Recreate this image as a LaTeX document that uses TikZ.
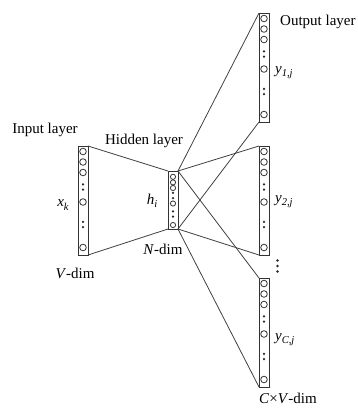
\documentclass[tikz,border=0pt]{standalone}
\usepackage{fontspec}
\setmainfont{Liberation Serif}

% lowered italic subscript
\newcommand\lsub[1]{\raisebox{-3.2bp}{\fontsize{10.5bp}{10.5bp}\selectfont\itshape #1}}
% two small dots stacked vertically, centred on (x,y)
\newcommand\dotpair[2]{%
  \fill[black!85] (#1,#2-2.7) circle[radius=1.25bp];
  \fill[black!85] (#1,#2+2.7) circle[radius=1.25bp];}
% a tall layer column: name, centre x, top y
\newcommand\layerbar[3]{%
  \node[bar, minimum height=109bp, anchor=north] (#1) at (#2,#3) {};
  \begin{scope}[shift={(#2,#3)}]
    \foreach \yy in {5.5,16,26.5,56,101.5} \node[unit] at (0,\yy) {};
    \dotpair{0}{41}
    \dotpair{0}{78.5}
  \end{scope}}

\begin{document}
\begin{tikzpicture}[x=1bp,y=-1bp,
  bar/.style={draw=black!80, line width=1bp, minimum width=10bp,
    inner sep=0, outer sep=0, fill=white},
  unit/.style={draw=black!80, line width=0.8bp, circle, minimum size=6.6bp,
    inner sep=0, outer sep=0},
  smallunit/.style={unit, minimum size=5.2bp},
  link/.style={draw=black!75, line width=0.8bp},
  lbl/.style={font=\fontsize{15bp}{16bp}\selectfont, inner sep=0},
]
\useasboundingbox (0,0) rectangle (358,410);

% input, output columns
\layerbar{in}{83}{146}
\layerbar{outa}{264}{13}
\layerbar{outb}{264}{146}
\layerbar{outc}{264}{278}

% hidden column
\node[bar, minimum height=58bp, anchor=north] (hid) at (173,171) {};
\begin{scope}[shift={(173,171)}]
  \foreach \yy in {5.8,11.4,17,32.5,54} \node[smallunit] at (0,\yy) {};
  \dotpair{0}{24.5}
  \dotpair{0}{43}
\end{scope}

% connections
\draw[link] (in.north east) -- (hid.north west);
\draw[link] (in.south east) -- (hid.south west);
\foreach \o in {outa,outb,outc}{
  \draw[link] (hid.north east) -- (\o.north west);
  \draw[link] (hid.south east) -- (\o.south west);
}

% vertical ellipsis between the last two output columns
\foreach \yy in {260.5,266,271.5}
  \fill[black!85] (277.5,\yy) circle[radius=1.3bp];

% titles
\node[lbl] (tin) at (45,130) {Input layer};
\node[lbl] (thid) at (144,141) {Hidden layer};
\node[lbl, anchor=west] (tout) at (280,22) {Output layer};

% unit labels
\node[lbl] (xk) at (63,205) {\itshape x\lsub{k}};
\node[lbl] (hi) at (152,201) {\itshape h\lsub{i}};
\node[lbl, anchor=west] (ya) at (275,73) {\itshape y\lsub{1,j}};
\node[lbl, anchor=west] (yb) at (275,202) {\itshape y\lsub{2,j}};
\node[lbl, anchor=west] (yc) at (275,340) {\itshape y\lsub{C,j}};

% dimensions
\node[lbl] (vdim) at (75,273) {\textit{V}-dim};
\node[lbl] (ndim) at (163,249) {\textit{N}-dim};
\node[lbl, anchor=west] (cvdim) at (259,398) {\textit{C}×\textit{V}-dim};
\end{tikzpicture}
\end{document}
